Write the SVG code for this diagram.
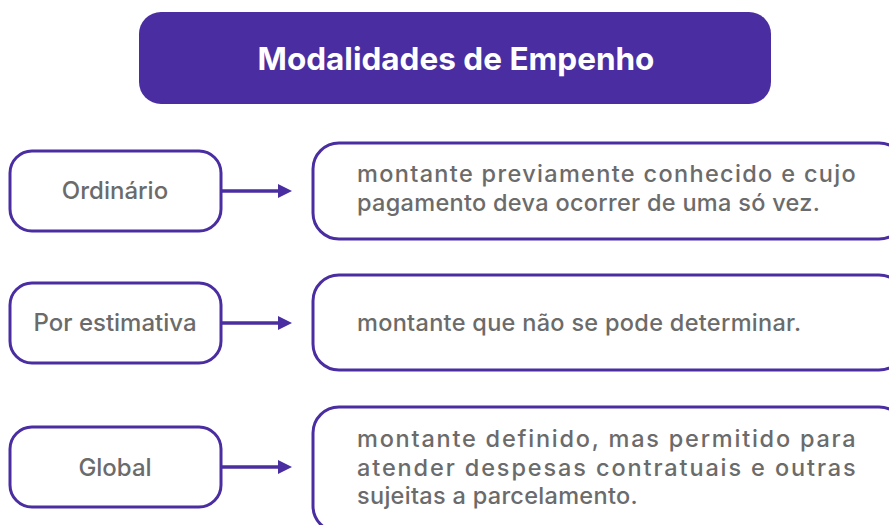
<svg xmlns="http://www.w3.org/2000/svg" width="889" height="525" viewBox="0 0 889 525">
  <defs>
    <style>
      .title{fill:#4a2ea1;}
      .box{fill:#ffffff;stroke:#4a2ea1;stroke-width:3;}
      .lbl{font-family:Inter,"Open Sans","Liberation Sans",sans-serif;font-size:24px;font-weight:500;fill:#6b6b6b;text-anchor:middle;}
      .txt{font-family:Inter,"Open Sans","Liberation Sans",sans-serif;font-size:23.5px;letter-spacing:0.3px;font-weight:500;fill:#6b6b6b;}
      .ttl{font-family:Inter,"Open Sans","Liberation Sans",sans-serif;font-size:31.5px;font-weight:700;fill:#ffffff;text-anchor:middle;}
      .conn{stroke:#4a2ea1;stroke-width:3.5;fill:none;}
    </style>
    <marker id="ah" markerWidth="14" markerHeight="14" refX="0" refY="7" orient="auto" markerUnits="userSpaceOnUse">
      <path d="M0,0 L14,7 L0,14 Z" fill="#4a2ea1"/>
    </marker>
  </defs>
  <rect width="889" height="525" fill="#ffffff"/>

  <g id="title">
    <rect class="title" x="139" y="12" width="632" height="92" rx="22"/>
    <text class="ttl" x="456" y="70">Modalidades de Empenho</text>
  </g>

  <g id="ordinario">
    <rect class="box" x="10" y="151" width="211" height="80" rx="22"/>
    <text class="lbl" x="115" y="199">Ordinário</text>
  </g>
  <g id="ordinario-desc">
    <rect class="box" x="313" y="143" width="592" height="96" rx="26"/>
    <text class="txt" x="357" y="182" textLength="499" lengthAdjust="spacing">montante previamente conhecido e cujo</text>
    <text class="txt" x="357" y="211">pagamento deva ocorrer de uma só vez.</text>
  </g>

  <g id="estimativa">
    <rect class="box" x="10" y="283" width="211" height="80" rx="22"/>
    <text class="lbl" x="115" y="331">Por estimativa</text>
  </g>
  <g id="estimativa-desc">
    <rect class="box" x="313" y="275" width="592" height="95" rx="26"/>
    <text class="txt" x="357" y="331">montante que não se pode determinar.</text>
  </g>

  <g id="global">
    <rect class="box" x="10" y="427" width="211" height="80" rx="22"/>
    <text class="lbl" x="115" y="476">Global</text>
  </g>
  <g id="global-desc">
    <rect class="box" x="313" y="407" width="592" height="125" rx="26"/>
    <text class="txt" x="357" y="447" textLength="499" lengthAdjust="spacing">montante definido, mas permitido para</text>
    <text class="txt" x="357" y="476" textLength="499" lengthAdjust="spacing">atender despesas contratuais e outras</text>
    <text class="txt" x="357" y="504">sujeitas a parcelamento.</text>
  </g>

  <g id="connectors">
    <line class="conn" x1="221" y1="191" x2="278" y2="191" marker-end="url(#ah)"/>
    <line class="conn" x1="221" y1="323" x2="278" y2="323" marker-end="url(#ah)"/>
    <line class="conn" x1="221" y1="467" x2="278" y2="467" marker-end="url(#ah)"/>
  </g>
</svg>
